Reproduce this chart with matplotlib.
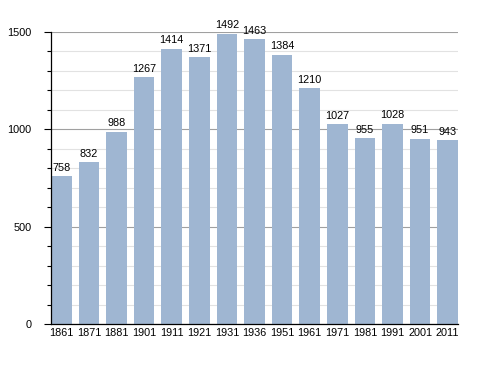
import matplotlib
matplotlib.use("Agg")
import matplotlib.pyplot as plt
from matplotlib.ticker import MultipleLocator

years = ["1861", "1871", "1881", "1901", "1911", "1921", "1931", "1936",
         "1951", "1961", "1971", "1981", "1991", "2001", "2011"]
population = [758, 832, 988, 1267, 1414, 1371, 1492, 1463,
              1384, 1210, 1027, 955, 1028, 951, 943]

plt.rcParams['font.family'] = ['Liberation Sans', 'DejaVu Sans']

fig = plt.figure(figsize=(4.88, 3.73), dpi=100)
ax = fig.add_axes([0.1045, 0.1314, 0.834, 0.7828])

width = 0.745
x = range(len(years))
ax.bar(x, population, width=width, color='#9fb6d2', zorder=2)
for xi, v in zip(x, population):
    ax.text(xi, v + 18, str(v), ha='center', va='bottom', fontsize=7.8, color='black', zorder=3)

ax.set_xlim(-width / 2, len(years) - 1 + width / 2)
ax.set_ylim(0, 1500)
ax.set_xticks(list(x))
ax.set_xticklabels(years, fontsize=7.8)
ax.tick_params(axis='x', length=0, pad=3)

ax.yaxis.set_major_locator(MultipleLocator(500))
ax.yaxis.set_minor_locator(MultipleLocator(100))
ax.tick_params(axis='y', which='major', length=5, width=0.8, labelsize=7.8, pad=9)
ax.tick_params(axis='y', which='minor', length=3, width=0.8)
ax.grid(axis='y', which='major', color='#a0a0a0', linewidth=0.8, zorder=0)
ax.grid(axis='y', which='minor', color='#e2e2e2', linewidth=0.8, zorder=0)

for side in ['top', 'right']:
    ax.spines[side].set_visible(False)
ax.spines['left'].set_linewidth(0.9)
ax.spines['bottom'].set_linewidth(0.9)
ax.spines['bottom'].set_zorder(4)

fig.savefig("out.png", dpi=100)
